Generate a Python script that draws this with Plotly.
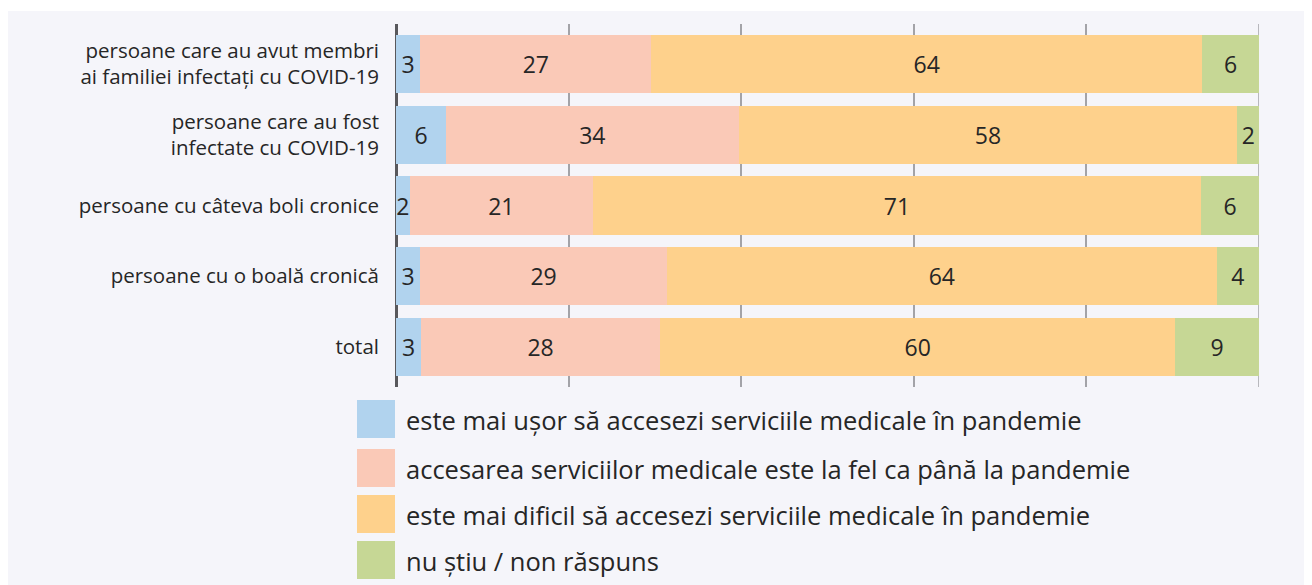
import plotly.graph_objects as go

categories = [
    "persoane care au avut membri<br>ai familiei infectați cu COVID-19",
    "persoane care au fost<br>infectate cu COVID-19",
    "persoane cu câteva boli cronice",
    "persoane cu o boală cronică",
    "total",
]
series_names = [
    "este mai ușor să accesezi serviciile medicale în pandemie",
    "accesarea serviciilor medicale este la fel ca până la pandemie",
    "este mai dificil să accesezi serviciile medicale în pandemie",
    "nu știu / non răspuns",
]
# estimated segment widths (%)
easier = [2.8, 5.8, 1.6, 2.8, 2.9]
same = [26.8, 33.9, 21.2, 28.6, 27.7]
harder = [63.8, 57.8, 70.5, 63.7, 59.7]
dont_know = [6.6, 2.5, 6.7, 4.9, 9.7]
# printed labels
easier_lbl = ["3", "6", "2", "3", "3"]
same_lbl = ["27", "34", "21", "29", "28"]
harder_lbl = ["64", "58", "71", "64", "60"]
dont_know_lbl = ["6", "2", "6", "4", "9"]

colors = ["#b1d3ee", "#fac9b7", "#fed18c", "#c6d795"]
values = [easier, same, harder, dont_know]
labels = [easier_lbl, same_lbl, harder_lbl, dont_know_lbl]

FONT = "Open Sans"
TXT = "#262626"

fig = go.Figure()
for name, vals, lbls, col in zip(series_names, values, labels, colors):
    fig.add_trace(go.Bar(
        y=categories, x=vals, name=name, orientation="h",
        marker=dict(color=col, line=dict(width=0)),
        text=lbls, textposition="inside", insidetextanchor="middle",
        textfont=dict(size=23, color=TXT, family=FONT),
        showlegend=False, hoverinfo="x+y",
    ))

# pixel geometry (figure coordinates; page adds an 8px body margin)
FW, FH = 1304, 577
L, R, T, B = 388, 1251, 16, 379
W, H = R - L, B - T
def px(x):
    return (x - L) / W
def py(y):
    return (B - y) / H

shapes = [dict(type="rect", xref="paper", yref="paper",
               x0=px(0), x1=px(FW + 20), y0=py(3), y1=py(FH + 20),
               fillcolor="#f5f5fa", line=dict(width=0), layer="below"),
          dict(type="line", xref="x", yref="paper", x0=100, x1=100, y0=0, y1=1,
               line=dict(color="#a3a3a8", width=1.5), layer="below")]
annotations = []
sw_top = [392, 441, 487, 533]
for name, col, top in zip(series_names, colors, sw_top):
    shapes.append(dict(type="rect", xref="paper", yref="paper",
                       x0=px(349), x1=px(387), y0=py(top + 38), y1=py(top),
                       fillcolor=col, line=dict(width=0)))
    annotations.append(dict(xref="paper", yref="paper", x=px(396), y=py(top + 20),
                            xanchor="left", yanchor="middle", showarrow=False,
                            text=name, font=dict(size=25.5, color=TXT, family=FONT)))

fig.update_layout(
    barmode="stack", bargap=0.18,
    width=FW, height=FH,
    margin=dict(l=L, r=FW - R, t=T, b=FH - B, pad=0),
    paper_bgcolor="white", plot_bgcolor="rgba(0,0,0,0)",
    uniformtext=dict(mode="show", minsize=23),
    shapes=shapes, annotations=annotations,
    xaxis=dict(range=[0, 100], dtick=20, showgrid=True, gridcolor="#a3a3a8",
               gridwidth=1.5, showticklabels=False, zeroline=True,
               zerolinecolor="#58585c", zerolinewidth=2.5, showline=False,
               fixedrange=True),
    yaxis=dict(type="category", range=[4.565, -0.565], showgrid=False,
               ticks="", ticklabelstandoff=16,
               tickfont=dict(size=20.5, color=TXT, family=FONT),
               showline=False, zeroline=False, fixedrange=True),
    font=dict(family=FONT, color=TXT),
)

fig.write_html("out.html")
